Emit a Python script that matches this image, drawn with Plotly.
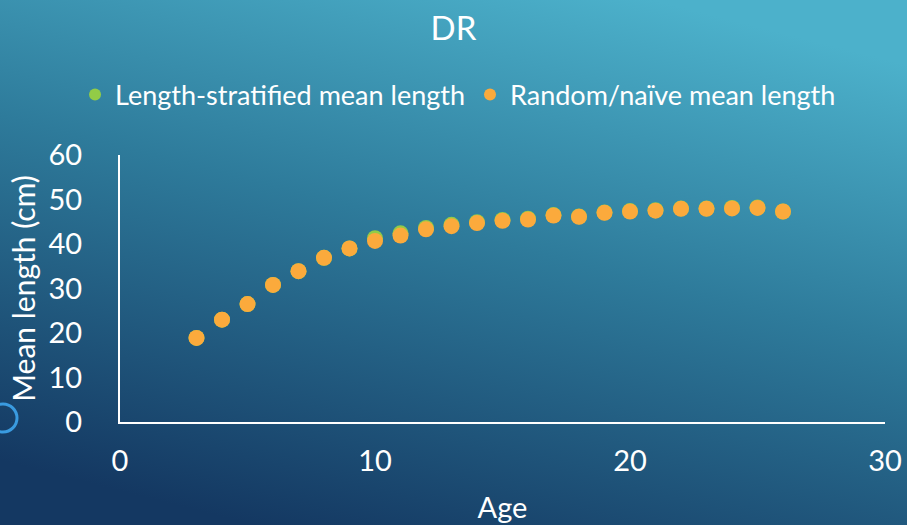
import base64
import plotly.graph_objects as go

ages = list(range(3, 27))
stratified = [18.9, 23.0, 26.5, 30.8, 33.9, 36.9, 39.0, 41.3, 42.4, 43.6, 44.3, 44.9,
              45.4, 45.7, 46.5, 46.2, 47.1, 47.4, 47.6, 48.0, 48.0, 48.1, 48.2, 47.3]
naive = [18.9, 23.0, 26.5, 30.8, 33.9, 36.9, 39.0, 40.7, 41.9, 43.3, 44.0, 44.7,
         45.2, 45.5, 46.4, 46.1, 47.0, 47.3, 47.5, 47.9, 47.9, 48.0, 48.1, 47.3]

W, H = 907, 525
L, R, T, B = 120, 22, 155, 103
PW, PH = W - L - R, H - T - B

svg = f'''<svg xmlns="http://www.w3.org/2000/svg" width="{W}" height="{H}" viewBox="0 0 {W} {H}" preserveAspectRatio="none">
<defs><linearGradient id="g" x1="0.72" y1="0" x2="0.28" y2="1">
<stop offset="0" stop-color="#4cb1cb"/>
<stop offset="0.45" stop-color="#2e7b9b"/>
<stop offset="1" stop-color="#143862"/>
</linearGradient></defs>
<rect width="{W}" height="{H}" fill="url(#g)"/></svg>'''
bg = "data:image/svg+xml;base64," + base64.b64encode(svg.encode()).decode()

font = "Lato, 'Noto Sans', sans-serif"

fig = go.Figure()
fig.add_trace(go.Scatter(x=ages, y=stratified, mode="markers", name="Length-stratified mean length",
                         marker=dict(color="#92cc47", size=16)))
fig.add_trace(go.Scatter(x=ages, y=naive, mode="markers", name="Random/naïve mean length",
                         marker=dict(color="#fbaa3c", size=16)))

fig.update_layout(
    width=W, height=H,
    margin=dict(l=L, r=R, t=T, b=B, pad=0, autoexpand=False),
    paper_bgcolor="#2a6a8c", plot_bgcolor="rgba(0,0,0,0)",
    font=dict(family=font, color="white", size=28),
    title=dict(text="DR", x=0.5, xref="container", xanchor="center", y=1 - 28 / H, yanchor="middle",
               font=dict(size=33, color="white", family=font)),
    showlegend=True,
    legend=dict(orientation="h", x=0.505, xref="container", xanchor="center", y=1 - 95 / H,
                yref="container", yanchor="middle", font=dict(size=27, color="white"),
                bgcolor="rgba(0,0,0,0)", itemwidth=30, itemsizing="constant", tracegroupgap=0),
    xaxis=dict(range=[0, 30], tickvals=[0, 10, 20, 30], showgrid=False, zeroline=False,
               showline=True, linecolor="white", linewidth=2, ticks="",
               ticklabelstandoff=12, tickfont=dict(size=29, color="white"),
               title=dict(text="Age", font=dict(size=29, color="white"), standoff=22)),
    yaxis=dict(range=[0, 60], tickvals=[0, 10, 20, 30, 40, 50, 60], showgrid=False, zeroline=False,
               showline=True, linecolor="white", linewidth=2, ticks="",
               ticklabelstandoff=30, tickfont=dict(size=29, color="white"),
               title=dict(text="Mean length (cm)", font=dict(size=30, color="white"), standoff=4)),
    images=[dict(source=bg, xref="paper", yref="paper", x=-L / PW, y=1 + T / PH,
                 sizex=W / PW, sizey=H / PH, sizing="stretch", xanchor="left", yanchor="top",
                 layer="below")],
    shapes=[dict(type="circle", xref="paper", yref="paper",
                 x0=(3 - 14 - L) / PW, x1=(3 + 14 - L) / PW,
                 y0=(PH - (432 - T)) / PH, y1=(PH - (404 - T)) / PH,
                 line=dict(color="#3a9be0", width=3), fillcolor="rgba(0,0,0,0)")],
)

fig.write_html("out.html")
